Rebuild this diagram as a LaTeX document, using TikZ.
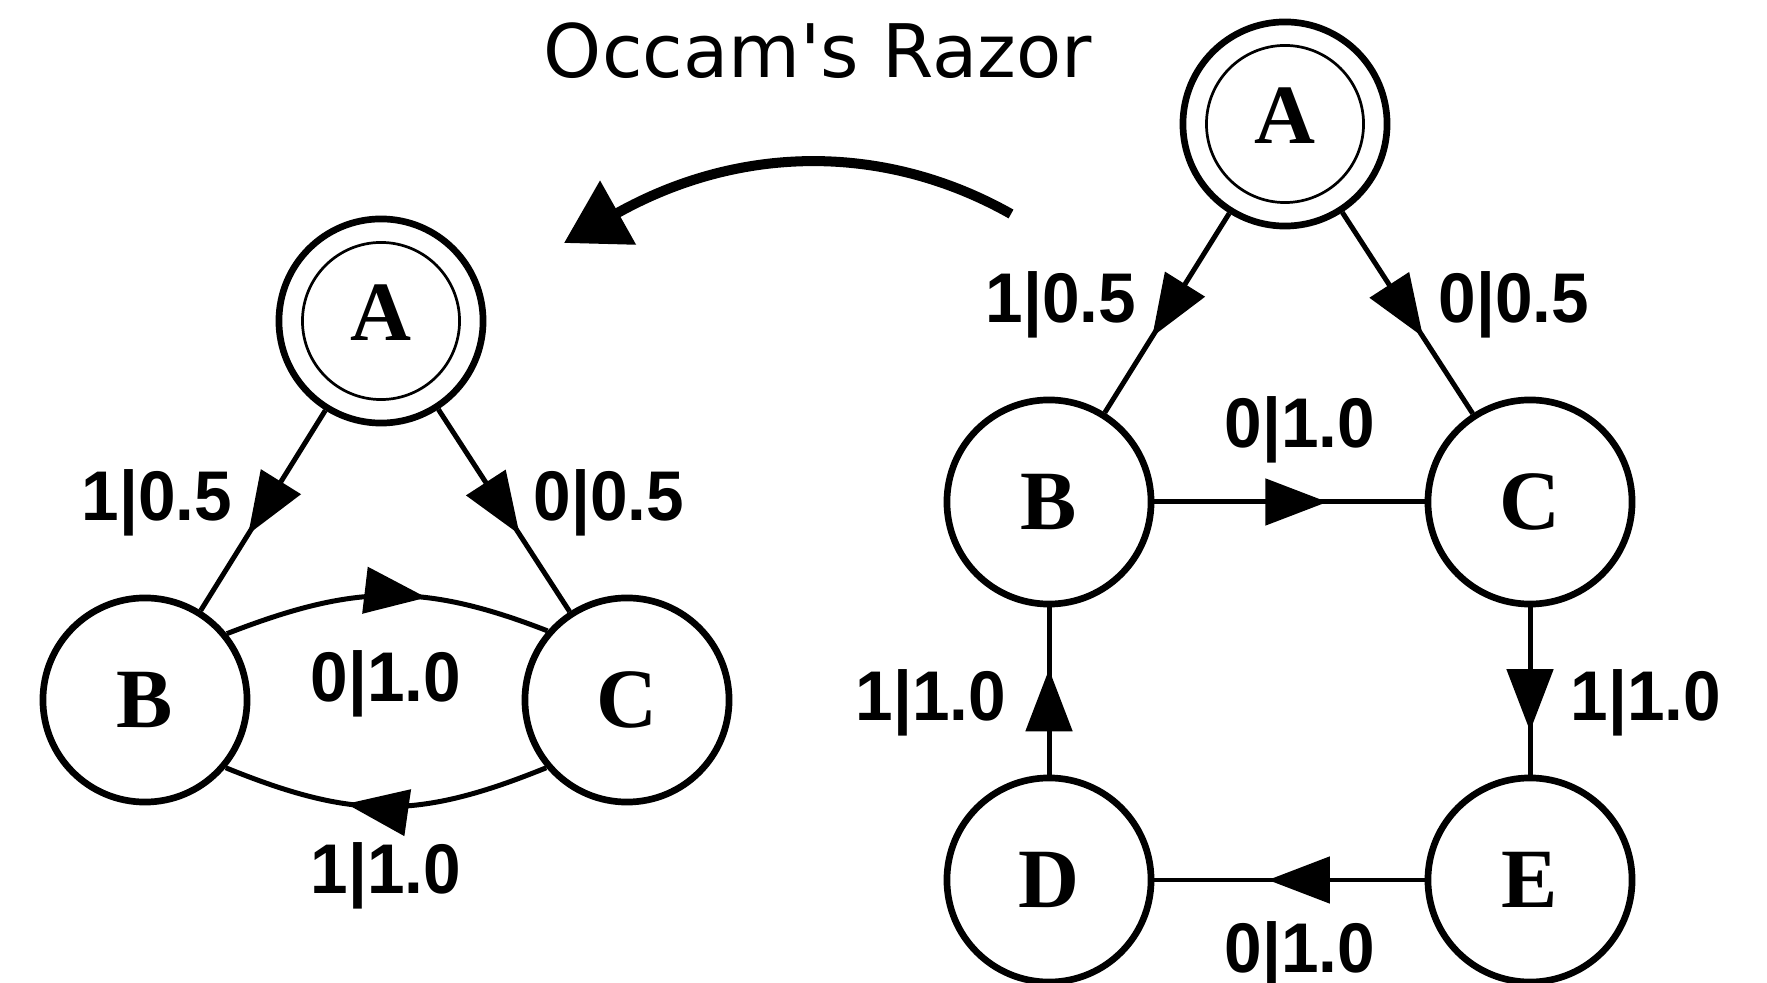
\documentclass[tikz,border=0pt]{standalone}
\usepackage{fontspec}
\setmainfont{Liberation Serif}
\newfontfamily\lblfont[FakeStretch=0.96]{Liberation Sans}
\newfontfamily\titlefont{DejaVu Sans}
\usetikzlibrary{arrows.meta,decorations.markings}

\tikzset{
  stnode/.style={circle, draw, line width=1.9pt, minimum size=2.04cm, inner sep=0pt,
    font=\fontsize{24}{28}\selectfont\bfseries},
  accept/.style={stnode, text depth=5pt,
    path picture={\draw[line width=0.77pt] (path picture bounding box.center) circle[radius=0.785cm];}},
  link/.style={line width=1.42pt},
  lbl/.style={font=\lblfont\fontsize{20}{24}\selectfont\bfseries, anchor=base, inner sep=0pt},
  midarrow/.style={postaction={decorate}, decoration={markings,
    mark=at position #1 with {\arrow{Triangle[length=0.62cm,width=0.46cm]}}}},
}

\begin{document}
\begin{tikzpicture}[x=0.01cm, y=-0.01cm]
\useasboundingbox (0,0) rectangle (1767,983);

% title
\node[font=\titlefont\fontsize{21}{25}\selectfont, anchor=base, inner sep=0pt] (title) at (818,78) {Occam's Razor};

% reduced machine (left)
\node[accept] (la) at (381,321) {A};
\node[stnode] (lb) at (145,700) {B};
\node[stnode] (lc) at (627,700) {C};

\draw[link, midarrow=0.62] (la) -- (lb);
\draw[link, midarrow=0.62] (la) -- (lc);
\draw[link, midarrow=0.62] (lb.39) .. controls +(126,-49) and +(-126,-49) .. (lc.139);
\draw[link, midarrow=0.62] (lc.220) .. controls +(-128,52) and +(128,52) .. (lb.320);

\node[lbl] (l-ab) at (157,521) {1|0.5};
\node[lbl] (l-ac) at (609,521) {0|0.5};
\node[lbl] (l-bc) at (386,702) {0|1.0};
\node[lbl] (l-cb) at (386,893) {1|1.0};

% original machine (right)
\node[accept] (ra) at (1285,124) {A};
\node[stnode] (rb) at (1049,502) {B};
\node[stnode] (rc) at (1530,502) {C};
\node[stnode] (rd) at (1049,880) {D};
\node[stnode] (re) at (1530,880) {E};

\draw[link, midarrow=0.62] (ra) -- (rb);
\draw[link, midarrow=0.62] (ra) -- (rc);
\draw[link, midarrow=0.64] (rb) -- (rc);
\draw[link, midarrow=0.74] (rc) -- (re);
\draw[link, midarrow=0.58] (re) -- (rd);
\draw[link, midarrow=0.63] (rd) -- (rb);

\node[lbl] (r-ab) at (1061,323) {1|0.5};
\node[lbl] (r-ac) at (1514,323) {0|0.5};
\node[lbl] (r-bc) at (1300,448) {0|1.0};
\node[lbl] (r-db) at (931,721) {1|1.0};
\node[lbl] (r-ce) at (1646,721) {1|1.0};
\node[lbl] (r-ed) at (1300,972) {0|1.0};

% reduction arrow
\coordinate (redstart) at (1011,214);
\coordinate (redtip) at (564,243);
\draw[line width=2.85pt, -{Triangle[length=0.62cm,width=0.71cm]}]
  (redstart) .. controls (887,144) and (742,143) .. (redtip);
\end{tikzpicture}
\end{document}
